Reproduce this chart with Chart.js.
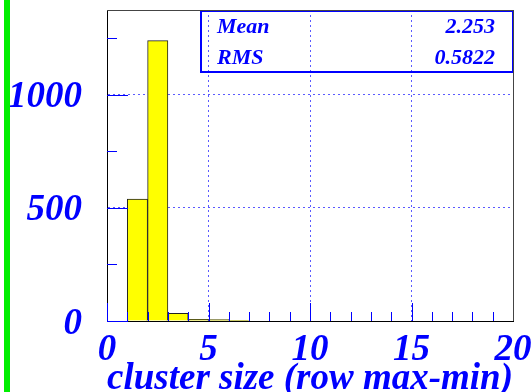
<!DOCTYPE html>
<html>
<head>
<meta charset="utf-8">
<script src="https://cdn.jsdelivr.net/npm/chart.js@4.4.1/dist/chart.umd.min.js"></script>
<style>
html, body { margin: 0; padding: 0; background: #fff; }
#wrap { position: relative; width: 532px; height: 392px; overflow: hidden; }
#hist { position: absolute; left: 0; top: 0; }
#stripe { position: absolute; left: 4px; top: 0; width: 6px; height: 392px; background: #00ee00; }
</style>
</head>
<body>
<div id="wrap">
    <canvas id="hist" width="532" height="392"></canvas>
    <div id="stripe"></div>
</div>
<script>
// Histogram bins (width 1, from 0 to 20)
const binCenters = [0.5, 1.5, 2.5, 3.5, 4.5, 5.5, 6.5, 7.5, 8.5, 9.5,
                    10.5, 11.5, 12.5, 13.5, 14.5, 15.5, 16.5, 17.5, 18.5, 19.5];
const binCounts = [0, 539, 1239, 34, 7, 6, 1, 0, 0, 0,
                   0, 0, 0, 0, 0, 0, 0, 0, 0, 0];

const xTicks = [0, 5, 10, 15, 20];
const xMinorTicks = [1, 2, 3, 4, 6, 7, 8, 9, 11, 12, 13, 14, 16, 17, 18, 19];
const yTicks = [0, 500, 1000];
const yMinorTicks = [250, 750, 1250];

const statLabels = ['Mean', 'RMS'];
const statValues = ['2.253', '0.5822'];
const xTitle = 'cluster size (row max-min)';

const BLUE = '#0000ff';
const GRID = '#5a5aff';
const SERIF = '"Liberation Serif", "DejaVu Serif", serif';

// Stats box goes under the grid, so draw it before the scales (z: 1)
const statsBox = {
    id: 'statsBox',
    beforeDatasetsDraw(chart) {
        const { ctx, chartArea: a } = chart;
        const bx = 200, by = a.top, bw = a.right - bx, bh = 62;
        ctx.save();
        ctx.strokeStyle = BLUE;
        ctx.lineWidth = 2;
        ctx.strokeRect(bx + 1, by + 1, bw - 1, bh - 1);

        ctx.fillStyle = BLUE;
        ctx.font = 'bold italic 22px ' + SERIF;
        ctx.textBaseline = 'alphabetic';
        statLabels.forEach((lab, i) => {
            const base = by + 23 + i * 31;
            ctx.textAlign = 'left';
            ctx.fillText(lab, bx + 17, base);
            ctx.textAlign = 'right';
            ctx.fillText(statValues[i], a.right - 18, base);
        });
        ctx.restore();
    }
};

// Inner tick marks and top/right frame edges
const rootFrame = {
    id: 'rootFrame',
    afterDraw(chart) {
        const { ctx, chartArea: a, scales: { x, y } } = chart;
        ctx.save();

        ctx.strokeStyle = BLUE;
        ctx.lineWidth = 1;
        ctx.beginPath();
        yTicks.forEach(v => {
            const py = Math.round(y.getPixelForValue(v)) + 0.5;
            ctx.moveTo(a.left, py); ctx.lineTo(a.left + 21, py);
        });
        yMinorTicks.forEach(v => {
            const py = Math.round(y.getPixelForValue(v)) + 0.5;
            ctx.moveTo(a.left, py); ctx.lineTo(a.left + 10, py);
        });
        xTicks.forEach(v => {
            const px = Math.round(x.getPixelForValue(v)) + 0.5;
            ctx.moveTo(px, a.bottom); ctx.lineTo(px, a.bottom - 18);
        });
        xMinorTicks.forEach(v => {
            const px = Math.round(x.getPixelForValue(v)) + 0.5;
            ctx.moveTo(px, a.bottom); ctx.lineTo(px, a.bottom - 9);
        });
        ctx.stroke();

        ctx.strokeStyle = '#444';
        ctx.beginPath();
        ctx.moveTo(a.left, a.top + 0.5); ctx.lineTo(a.right + 0.5, a.top + 0.5);
        ctx.lineTo(a.right + 0.5, a.bottom);
        ctx.stroke();
        ctx.restore();
    }
};

const gridColor = (edges) => c => (!c.tick || edges.includes(c.tick.value)) ? 'rgba(0,0,0,0)' : GRID;
const noPad = s => { s.paddingTop = 0; s.paddingBottom = 0; s.paddingLeft = 0; s.paddingRight = 0; };

new Chart(document.getElementById('hist'), {
    type: 'bar',
    data: {
        datasets: [{
            data: binCenters.map((c, i) => ({ x: c, y: binCounts[i] })),
            backgroundColor: '#ffff00',
            borderColor: '#222',
            borderWidth: 1,
            borderSkipped: 'bottom',
            barPercentage: 1.0,
            categoryPercentage: 1.0
        }]
    },
    options: {
        responsive: false,
        animation: false,
        devicePixelRatio: 1,
        layout: { padding: { left: 0, right: 19, top: 10, bottom: 0 } },
        plugins: { legend: { display: false }, tooltip: { enabled: false } },
        scales: {
            x: {
                type: 'linear',
                min: 0,
                max: 20,
                offset: false,
                z: 1,
                afterBuildTicks: s => { s.ticks = xTicks.map(v => ({ value: v })); },
                afterFit: s => { s.height = 71; noPad(s); },
                grid: { drawTicks: false, offset: false, color: gridColor([0, 20]), lineWidth: 1 },
                border: { display: true, color: '#000', width: 1, dash: [2, 3] },
                ticks: {
                    color: BLUE,
                    padding: 7,
                    maxRotation: 0,
                    autoSkip: false,
                    callback: v => String(v),
                    font: { family: SERIF, size: 37, weight: 'bold', style: 'italic' }
                },
                title: {
                    display: true,
                    text: xTitle,
                    align: 'end',
                    color: BLUE,
                    padding: { top: 0, bottom: -6 },
                    font: { family: SERIF, size: 37, weight: 'bold', style: 'italic', lineHeight: 1.0 }
                }
            },
            y: {
                min: 0,
                max: 1374,
                z: 1,
                afterBuildTicks: s => { s.ticks = yTicks.map(v => ({ value: v })); },
                afterFit: s => { s.width = 107; noPad(s); },
                grid: { drawTicks: false, color: gridColor([0]), lineWidth: 1 },
                border: { display: true, color: '#000', width: 1, dash: [2, 3] },
                ticks: {
                    color: BLUE,
                    padding: 25,
                    labelOffset: 3,
                    callback: v => String(v),
                    font: { family: SERIF, size: 37, weight: 'bold', style: 'italic' }
                }
            }
        }
    },
    plugins: [statsBox, rootFrame]
});
</script>
</body>
</html>
